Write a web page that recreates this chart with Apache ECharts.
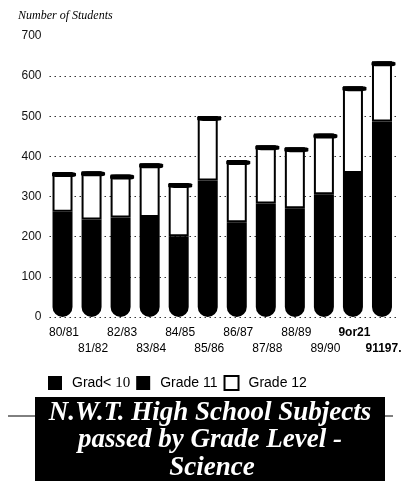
<!DOCTYPE html>
<html><head><meta charset="utf-8">
<script src="https://cdn.jsdelivr.net/npm/echarts@6/dist/echarts.min.js"></script>
<style>html,body{margin:0;padding:0;background:#fff}#c{width:417px;height:481px}</style>
</head><body><div id="c"></div>
<script>
var years = ["80/81","81/82","82/83","83/84","84/85","85/86","86/87","87/88","88/89","89/90","9or21","91197."];
var grades10and11 = [262, 243, 248, 249, 201, 340, 236, 283, 271, 306, 359, 487];
var grade12 = [99, 120, 107, 134, 133, 161, 155, 145, 152, 151, 216, 150];
var yTicks = [0, 100, 200, 300, 400, 500, 600, 700];
var boldLabels = ["9or21", "91197."];

var totals = grades10and11.map(function (v, i) { return v + grade12[i]; });
var chart = echarts.init(document.getElementById('c'));
var gridColors = yTicks.map(function (t, i) { return i === yTicks.length - 1 ? 'rgba(0,0,0,0)' : '#333'; });
chart.setOption({
  animation: false,
  backgroundColor: '#fff',
  grid: { left: 49.5, right: 19, top: 36, bottom: 164 },
  legend: {
    left: 43, top: 370, itemWidth: 14, itemHeight: 14, itemGap: 6,
    icon: 'rect',
    textStyle: {
      fontFamily: 'Liberation Sans', fontSize: 14, color: '#000', padding: [0, 0, 0, 5],
      rich: {
        a: { fontFamily: 'Liberation Sans', fontSize: 14, color: '#000' },
        s: { fontFamily: 'Liberation Serif', fontSize: 15, color: '#000' }
      }
    },
    formatter: function (n) {
      if (n === 'Grad< 10') return '{a|Grad<} {s|10}';
      return n;
    },
    data: ['Grad< 10', 'Grade 11', 'Grade 12']
  },
  xAxis: {
    type: 'category', data: years,
    axisLine: { show: false }, axisTick: { show: false },
    axisLabel: {
      interval: 0, margin: 8, lineHeight: 16,
      fontFamily: 'Liberation Sans', fontSize: 12, color: '#000',
      formatter: function (v, i) {
        var t = boldLabels.indexOf(v) >= 0 ? '{b|' + v + '}' : v;
        return i % 2 === 1 ? '\n' + t : t;
      },
      rich: { b: { fontWeight: 'bold', fontFamily: 'Liberation Sans', fontSize: 12, color: '#000', lineHeight: 16 } }
    }
  },
  yAxis: {
    type: 'value', min: yTicks[0], max: yTicks[yTicks.length - 1], interval: 100,
    axisLine: { show: false }, axisTick: { show: false },
    axisLabel: { margin: 8, fontFamily: 'Liberation Sans', fontSize: 12, color: '#111' },
    splitLine: { show: true, lineStyle: { type: [1.5, 3.5], color: gridColors, width: 1 } }
  },
  series: [
    {
      name: 'Grad< 10', type: 'bar', stack: 't', barWidth: 20,
      data: grades10and11,
      itemStyle: { color: '#000', borderRadius: [0, 0, 10, 10] }
    },
    {
      name: 'Grade 12', type: 'bar', stack: 't', barWidth: 20,
      data: grade12,
      itemStyle: { color: '#fff', borderColor: '#000', borderWidth: 2 }
    },
    {
      name: 'Grade 11', type: 'bar', data: [],
      itemStyle: { color: '#000' }
    },
    {
      name: 'rim', type: 'pictorialBar', data: totals,
      symbol: 'roundRect', symbolSize: [24, 5], symbolPosition: 'end',
      symbolOffset: [0, 0], z: 5,
      itemStyle: { color: '#000' }
    }
  ],
  graphic: [
    { type: 'text', left: 18, top: 10, style: { text: 'Number of Students', font: 'italic 12px "Liberation Serif"', fill: '#000' } },
    { type: 'line', shape: { x1: 8, y1: 416, x2: 35, y2: 416 }, style: { stroke: '#000', lineWidth: 1 } },
    { type: 'line', shape: { x1: 385, y1: 416, x2: 393, y2: 416 }, style: { stroke: '#000', lineWidth: 1 } },
    { type: 'rect', shape: { x: 35, y: 397, width: 350, height: 90 }, style: { fill: '#000' } },
    { type: 'text', x: 210, y: 413, style: { text: 'N.W.T. High School Subjects', font: 'italic bold 27px "Liberation Serif"', fill: '#fff', align: 'center', verticalAlign: 'middle' } },
    { type: 'text', x: 210, y: 440, style: { text: 'passed by Grade Level -', font: 'italic bold 27px "Liberation Serif"', fill: '#fff', align: 'center', verticalAlign: 'middle' } },
    { type: 'text', x: 212, y: 468, style: { text: 'Science', font: 'italic bold 27px "Liberation Serif"', fill: '#fff', align: 'center', verticalAlign: 'middle' } }
  ]
});
</script></body></html>
